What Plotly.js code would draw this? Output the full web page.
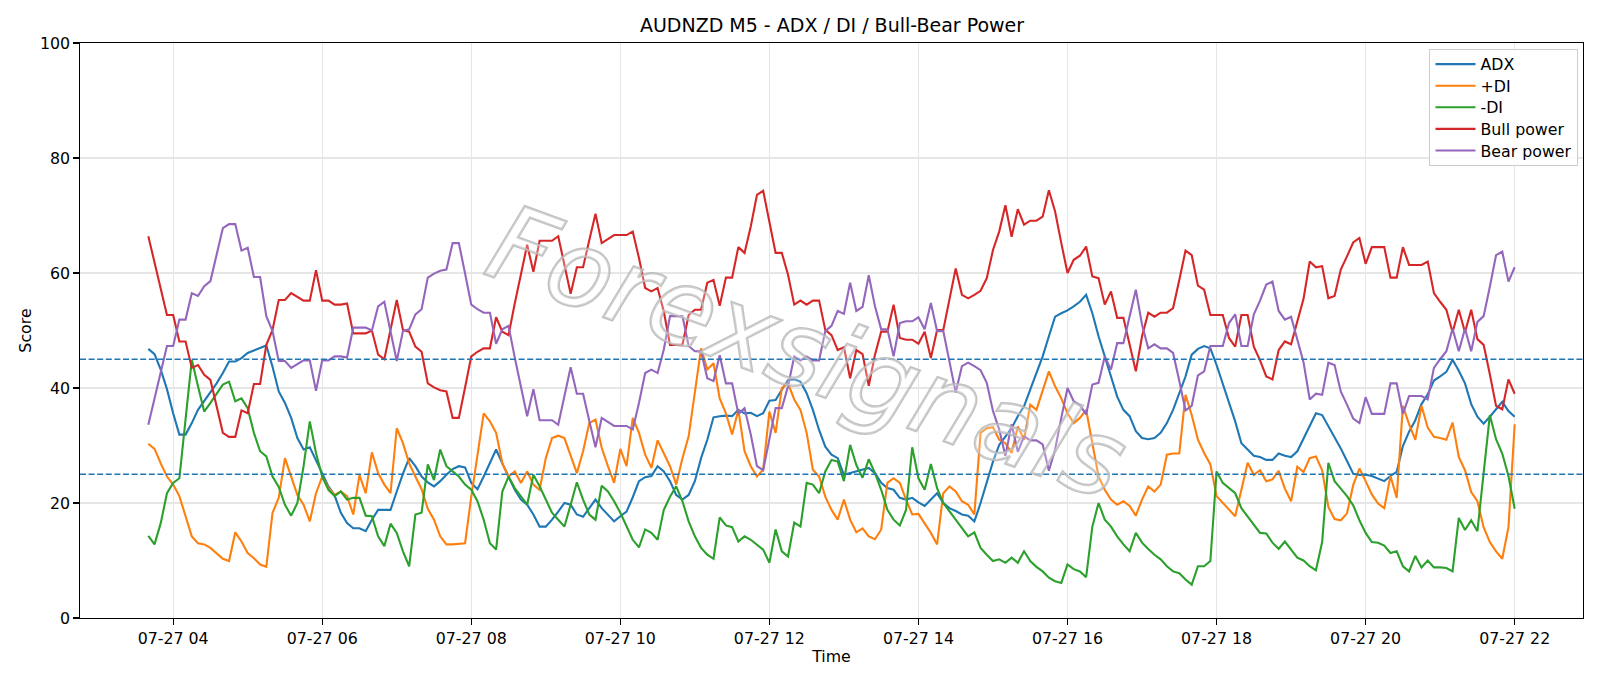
<!DOCTYPE html>
<html>
<head>
<meta charset="utf-8">
<script src="https://cdn.plot.ly/plotly-3.0.1.min.js"></script>
<style>
  html, body { margin: 0; padding: 0; background: #ffffff; }
  #chart { width: 1600px; height: 686px; }
</style>
</head>
<body>
<div id="chart"></div>
<script>
// AUDNZD M5 indicator readings, one value per 5-minute bar from 07-27 03:40 to 07-27 22:00
const startTime = { year: 2024, month: 7, day: 27, hour: 3, minute: 40 };
const barMinutes = 5;

const adx = [
  46.8, 45.9, 43.2, 39.8, 35.6, 31.9, 31.9, 33.9, 36.2, 37.7,
  39.2, 40.8, 42.6, 44.6, 44.6, 45.2, 46.1, 46.5, 46.9, 47.4,
  43.7, 39.4, 37.4, 34.8, 31.3, 29.3, 29.7, 27.5, 25.1, 22.9,
  21.3, 18.3, 16.5, 15.6, 15.6, 15.1, 17.1, 18.8, 18.8, 18.8,
  22.0, 25.1, 27.8, 26.4, 24.6, 23.6, 22.9, 23.8, 24.9, 25.9,
  26.4, 26.2, 23.5, 22.4, 24.6, 26.9, 29.3, 26.9, 24.6, 22.3,
  20.6, 19.7, 18.0, 15.9, 15.9, 17.1, 18.5, 20.0, 19.7, 18.0,
  17.6, 19.1, 20.6, 19.1, 18.0, 16.8, 17.7, 18.5, 21.0, 23.8,
  24.5, 24.7, 26.4, 25.5, 23.8, 21.4, 20.6, 21.4, 23.8, 27.8,
  31.0, 34.9, 35.1, 35.2, 35.1, 36.2, 35.6, 35.7, 35.1, 35.6,
  37.8, 37.9, 39.7, 41.4, 41.5, 41.1, 39.1, 36.2, 32.7, 29.8,
  28.4, 27.8, 24.9, 25.2, 25.5, 25.8, 26.1, 25.2, 23.5, 22.6,
  22.3, 20.9, 20.6, 20.9, 20.1, 19.5, 20.6, 21.7, 20.0, 19.1,
  18.6, 18.0, 17.8, 16.8, 20.0, 23.5, 27.2, 30.1, 31.6, 33.0,
  35.1, 36.8, 39.7, 42.6, 45.5, 49.0, 52.4, 53.0, 53.5, 54.2,
  55.0, 56.2, 53.0, 49.0, 45.5, 42.0, 38.5, 36.2, 35.1, 32.5,
  31.3, 31.1, 31.3, 32.2, 33.9, 36.2, 39.1, 42.0, 45.8, 46.8,
  47.3, 46.9, 44.0, 40.8, 37.4, 34.2, 30.4, 29.3, 28.2, 28.0,
  27.5, 27.5, 28.6, 28.2, 28.0, 29.0, 31.2, 33.4, 35.6, 35.3,
  33.4, 31.5, 29.5, 27.3, 25.1, 24.9, 24.9, 24.7, 24.2, 23.8,
  24.7, 25.4, 29.9, 32.4, 34.4, 37.2, 38.9, 41.3, 42.0, 42.8,
  44.9, 43.0, 40.8, 37.2, 35.0, 33.8, 35.0, 36.3, 37.6, 36.0,
  35.0
];

const plusDI = [
  30.3, 29.4, 26.9, 24.6, 23.2, 21.2, 17.7, 14.2, 13.0, 12.8,
  12.2, 11.3, 10.3, 9.9, 14.9, 13.3, 11.3, 10.4, 9.3, 8.9,
  18.3, 20.9, 27.8, 24.6, 21.4, 19.7, 16.8, 21.7, 24.6, 22.6,
  21.4, 22.0, 21.2, 18.0, 24.9, 21.7, 28.8, 25.2, 23.2, 21.7,
  33.0, 30.4, 26.9, 24.6, 22.4, 19.0, 17.1, 14.2, 12.8, 12.8,
  12.9, 13.0, 21.1, 28.7, 35.6, 34.2, 32.2, 26.9, 24.6, 25.5,
  23.5, 25.5, 23.2, 22.3, 27.8, 31.3, 31.7, 31.3, 28.1, 25.2,
  29.0, 33.9, 34.5, 29.6, 26.4, 23.5, 29.4, 26.4, 34.8, 32.2,
  28.4, 26.1, 30.9, 28.7, 26.4, 23.2, 27.8, 31.6, 39.7, 46.9,
  43.2, 44.3, 38.2, 35.6, 31.9, 36.2, 29.0, 26.4, 24.6, 25.8,
  35.9, 32.2, 40.0, 40.8, 38.0, 36.2, 32.2, 25.8, 24.6, 21.1,
  18.8, 17.1, 20.6, 17.1, 14.9, 15.6, 14.2, 13.7, 15.4, 23.5,
  24.3, 23.5, 20.6, 18.0, 18.1, 16.5, 14.8, 12.8, 21.7, 22.9,
  22.0, 20.3, 19.7, 18.0, 32.2, 33.0, 33.2, 31.0, 30.4, 28.7,
  33.3, 31.0, 37.1, 36.2, 39.7, 42.9, 40.3, 38.2, 35.6, 33.9,
  34.8, 36.2, 30.4, 24.6, 22.3, 20.6, 19.7, 20.3, 19.5, 17.8,
  20.6, 22.9, 22.0, 23.2, 28.4, 28.6, 28.6, 38.8, 35.3, 31.0,
  28.7, 26.7, 21.2, 20.0, 18.8, 17.7, 22.3, 27.0, 24.9, 25.7,
  23.8, 24.1, 25.6, 22.5, 20.3, 26.3, 25.4, 27.8, 28.1, 25.7,
  19.3, 17.2, 17.0, 18.2, 23.1, 26.0, 23.8, 21.5, 19.9, 19.1,
  24.7, 20.9, 36.9, 33.7, 31.0, 36.9, 33.1, 31.5, 31.3, 31.0,
  34.0, 28.0, 25.7, 21.9, 20.3, 15.8, 13.2, 11.6, 10.3, 15.8,
  33.7
];

const minusDI = [
  14.3, 12.8, 16.5, 21.7, 23.5, 24.3, 34.6, 44.9, 40.3, 35.9,
  37.4, 39.1, 40.6, 41.1, 37.7, 38.2, 36.5, 32.2, 29.0, 28.1,
  24.6, 22.8, 19.7, 17.8, 20.0, 26.4, 34.2, 28.7, 24.6, 22.3,
  21.2, 22.0, 20.6, 20.9, 20.9, 17.8, 17.7, 14.2, 12.5, 16.4,
  14.8, 11.6, 9.0, 18.0, 18.3, 26.7, 24.0, 29.3, 26.4, 25.5,
  24.6, 23.2, 22.3, 20.3, 17.1, 13.0, 11.9, 22.0, 24.6, 22.6,
  21.1, 19.7, 24.9, 22.9, 20.6, 18.3, 17.1, 15.9, 19.7, 23.6,
  20.6, 18.0, 17.1, 23.0, 22.0, 20.3, 18.3, 15.9, 13.6, 12.3,
  15.4, 14.8, 13.6, 18.8, 21.1, 22.9, 20.3, 16.8, 14.2, 12.2,
  11.0, 10.3, 17.5, 16.1, 15.8, 13.3, 14.2, 13.6, 12.8, 11.9,
  9.6, 15.4, 11.6, 10.7, 16.6, 15.9, 23.5, 23.2, 21.7, 25.5,
  27.5, 27.2, 23.8, 30.1, 26.6, 24.4, 27.6, 25.2, 22.3, 18.8,
  17.1, 16.1, 18.8, 29.7, 24.3, 22.3, 26.8, 22.6, 20.0, 18.6,
  17.1, 15.6, 14.2, 14.9, 12.2, 11.0, 9.9, 10.2, 9.6, 10.5,
  9.6, 11.6, 9.9, 8.9, 8.1, 7.0, 6.4, 6.1, 9.3, 8.5,
  8.1, 7.1, 15.9, 20.0, 17.1, 15.9, 14.2, 12.8, 11.6, 14.8,
  13.1, 12.0, 11.0, 10.2, 9.0, 8.1, 7.8, 6.7, 5.8, 9.0,
  9.0, 9.9, 25.5, 23.5, 22.6, 21.7, 19.1, 17.7, 16.2, 14.8,
  14.7, 13.1, 12.0, 13.3, 11.9, 10.5, 10.0, 9.0, 8.3, 13.2,
  27.0, 23.8, 22.5, 21.2, 19.6, 17.0, 14.8, 13.2, 13.1, 12.6,
  11.3, 11.6, 9.0, 8.1, 10.8, 8.8, 10.0, 8.8, 8.8, 8.7,
  8.1, 17.4, 15.3, 17.0, 15.1, 24.7, 35.3, 31.1, 28.6, 24.7,
  19.0
];

const bullPower = [
  66.4, 61.9, 57.3, 52.7, 52.7, 48.1, 48.1, 43.5, 44.0, 42.3,
  41.4, 36.8, 32.2, 31.5, 31.5, 36.1, 35.6, 40.7, 40.7, 47.5,
  50.1, 55.3, 55.3, 56.5, 55.8, 55.2, 55.2, 60.5, 55.2, 55.2,
  54.5, 54.5, 54.7, 49.5, 49.5, 49.5, 50.0, 45.8, 45.0, 50.1,
  55.3, 50.1, 49.8, 47.2, 46.3, 40.8, 40.1, 39.6, 39.4, 34.8,
  34.8, 40.1, 45.5, 46.3, 46.9, 46.9, 52.3, 49.8, 49.2, 54.7,
  60.0, 64.9, 60.2, 65.6, 65.6, 65.6, 66.4, 61.4, 56.4, 61.0,
  61.0, 65.7, 70.3, 65.2, 65.9, 66.6, 66.6, 66.6, 67.2, 62.6,
  57.4, 56.8, 57.4, 53.3, 47.5, 47.5, 47.5, 52.7, 53.6, 53.6,
  58.3, 58.8, 54.3, 59.2, 59.2, 64.5, 63.5, 68.1, 73.6, 74.3,
  68.9, 63.5, 63.5, 59.7, 54.5, 55.2, 54.5, 55.2, 55.2, 50.1,
  49.2, 46.6, 47.1, 41.7, 46.6, 45.9, 40.4, 45.8, 49.8, 49.8,
  54.5, 48.7, 48.4, 48.4, 47.7, 49.8, 45.2, 50.1, 50.1, 55.3,
  60.8, 56.2, 55.6, 56.2, 56.9, 59.1, 64.0, 67.2, 71.8, 66.3,
  71.1, 68.4, 69.1, 69.1, 69.8, 74.4, 70.7, 65.2, 60.0, 62.3,
  63.0, 64.6, 59.4, 59.1, 54.5, 56.8, 52.2, 52.2, 47.5, 42.9,
  49.0, 53.1, 52.4, 53.1, 53.1, 53.9, 58.8, 63.9, 63.1, 57.8,
  57.1, 52.7, 52.7, 52.7, 48.7, 47.2, 52.7, 52.7, 47.2, 44.8,
  42.0, 41.5, 46.6, 48.1, 47.6, 51.5, 55.5, 62.0, 61.0, 61.2,
  55.6, 56.0, 60.6, 62.9, 65.3, 66.1, 61.6, 64.5, 64.5, 64.5,
  59.2, 59.2, 64.5, 61.4, 61.4, 61.4, 62.0, 56.5, 55.0, 53.6,
  49.7, 53.6, 49.7, 53.6, 48.5, 47.5, 42.4, 36.9, 36.3, 41.5,
  39.0
];

const bearPower = [
  33.6, 38.1, 42.7, 47.3, 47.3, 51.9, 51.9, 56.5, 56.0, 57.7,
  58.6, 63.2, 67.8, 68.5, 68.5, 63.9, 64.4, 59.3, 59.3, 52.5,
  49.9, 44.7, 44.7, 43.5, 44.2, 44.8, 44.8, 39.5, 44.8, 44.8,
  45.5, 45.5, 45.3, 50.5, 50.5, 50.5, 50.0, 54.2, 55.0, 49.9,
  44.7, 49.9, 50.2, 52.8, 53.7, 59.2, 59.9, 60.4, 60.6, 65.2,
  65.2, 59.9, 54.5, 53.7, 53.1, 53.1, 47.7, 50.2, 50.8, 45.3,
  40.0, 35.1, 39.8, 34.4, 34.4, 34.4, 33.6, 38.6, 43.6, 39.0,
  39.0, 34.3, 29.7, 34.8, 34.1, 33.4, 33.4, 33.4, 32.8, 37.4,
  42.6, 43.2, 42.6, 46.7, 52.5, 52.5, 52.5, 47.3, 46.4, 46.4,
  41.7, 41.2, 45.7, 40.8, 40.8, 35.5, 36.5, 31.9, 26.4, 25.7,
  31.1, 36.5, 36.5, 40.3, 45.5, 44.8, 45.5, 44.8, 44.8, 49.9,
  50.8, 53.4, 52.9, 58.3, 53.4, 54.1, 59.6, 54.2, 50.2, 50.2,
  45.5, 51.3, 51.6, 51.6, 52.3, 50.2, 54.8, 49.9, 49.9, 44.7,
  39.2, 43.8, 44.4, 43.8, 43.1, 40.9, 36.0, 32.8, 28.2, 33.7,
  28.9, 31.6, 30.9, 30.9, 30.2, 25.6, 29.3, 34.8, 40.0, 37.7,
  37.0, 35.4, 40.6, 40.9, 45.5, 43.2, 47.8, 47.8, 52.5, 57.1,
  51.0, 46.9, 47.6, 46.9, 46.9, 46.1, 41.2, 36.1, 36.9, 42.2,
  42.9, 47.3, 47.3, 47.3, 51.3, 52.8, 47.3, 47.3, 52.8, 55.2,
  58.0, 58.5, 53.4, 51.9, 52.4, 48.5, 44.5, 38.0, 39.0, 38.8,
  44.4, 44.0, 39.4, 37.1, 34.7, 33.9, 38.4, 35.5, 35.5, 35.5,
  40.8, 40.8, 35.5, 38.6, 38.6, 38.6, 38.0, 43.5, 45.0, 46.4,
  50.3, 46.4, 50.3, 46.4, 51.5, 52.5, 57.6, 63.1, 63.7, 58.5,
  61.0
];

const thresholdLevels = [45, 25];

const xTickValues = [
  '2024-07-27 04:00', '2024-07-27 06:00', '2024-07-27 08:00', '2024-07-27 10:00', '2024-07-27 12:00',
  '2024-07-27 14:00', '2024-07-27 16:00', '2024-07-27 18:00', '2024-07-27 20:00', '2024-07-27 22:00'
];
const xTickLabels = [
  '07-27 04', '07-27 06', '07-27 08', '07-27 10', '07-27 12',
  '07-27 14', '07-27 16', '07-27 18', '07-27 20', '07-27 22'
];
const yTickValues = [0, 20, 40, 60, 80, 100];
const xRange = ['2024-07-27 02:45', '2024-07-27 22:55'];

const seriesNames = ['ADX', '+DI', '-DI', 'Bull power', 'Bear power'];
const seriesColors = ['#1f77b4', '#ff7f0e', '#2ca02c', '#d62728', '#9467bd'];

const watermarkText = 'Forexsignals';

// Timestamps of the 5-minute bars
function pad(n) { return (n < 10 ? '0' : '') + n; }
function barTimes(count) {
  const out = [];
  for (let i = 0; i < count; i++) {
    const total = startTime.hour * 60 + startTime.minute + i * barMinutes;
    const h = Math.floor(total / 60), m = total % 60;
    out.push(startTime.year + '-' + pad(startTime.month) + '-' + pad(startTime.day) + ' ' + pad(h) + ':' + pad(m));
  }
  return out;
}
const times = barTimes(adx.length);

const FONT = 'DejaVu Sans, Verdana, sans-serif';
const TICK_SIZE = 15.8;
const seriesValues = [adx, plusDI, minusDI, bullPower, bearPower];

const traces = seriesValues.map((vals, k) => ({
  type: 'scatter',
  mode: 'lines',
  name: seriesNames[k],
  x: times,
  y: vals,
  line: { color: seriesColors[k], width: 2.1 }
}));

const shapes = thresholdLevels.map(v => ({
  type: 'line', xref: 'paper', x0: 0, x1: 1, yref: 'y', y0: v, y1: v,
  line: { color: '#1f77b4', width: 1.5, dash: '6px,2.6px' },
  layer: 'above'
}));

const layout = {
  width: 1600,
  height: 686,
  paper_bgcolor: '#ffffff',
  plot_bgcolor: '#ffffff',
  margin: { l: 80, r: 17, t: 43, b: 68 },
  font: { family: FONT, size: TICK_SIZE, color: '#000000' },
  title: {
    text: 'AUDNZD M5 - ADX / DI / Bull-Bear Power',
    font: { family: FONT, size: 19, color: '#000000' },
    x: 0.52, xanchor: 'center',
    y: 1 - 25.5 / 686, yanchor: 'middle', yref: 'container'
  },
  xaxis: {
    type: 'date',
    range: xRange,
    tickmode: 'array',
    tickvals: xTickValues,
    ticktext: xTickLabels,
    ticks: 'outside', ticklen: 5.5, tickwidth: 1.2, tickcolor: '#000000',
    showline: true, linecolor: '#000000', linewidth: 1.2, mirror: true,
    showgrid: true, gridcolor: '#e6e6e6', gridwidth: 1.2,
    zeroline: false,
    tickfont: { family: FONT, size: TICK_SIZE, color: '#000000' },
    title: { text: 'Time', font: { family: FONT, size: TICK_SIZE, color: '#000000' }, standoff: 4 }
  },
  yaxis: {
    range: [0, 100],
    tickmode: 'array',
    tickvals: yTickValues,
    ticks: 'outside', ticklen: 5.5, tickwidth: 1.2, tickcolor: '#000000',
    showline: true, linecolor: '#000000', linewidth: 1.2, mirror: true,
    showgrid: true, gridcolor: '#e6e6e6', gridwidth: 1.2,
    zeroline: false,
    tickfont: { family: FONT, size: TICK_SIZE, color: '#000000' },
    title: { text: 'Score', font: { family: FONT, size: TICK_SIZE, color: '#000000' }, standoff: 4 }
  },
  shapes: shapes,
  legend: {
    x: 0.997, xanchor: 'right',
    y: 0.989, yanchor: 'top',
    bgcolor: 'rgba(255,255,255,0.85)',
    bordercolor: '#cccccc', borderwidth: 1,
    font: { family: FONT, size: TICK_SIZE, color: '#000000' },
    tracegroupgap: 0,
    itemwidth: 40
  },
  annotations: [{
    text: watermarkText,
    xref: 'paper', yref: 'paper',
    x: 0.484, y: 0.462,
    xanchor: 'center', yanchor: 'middle',
    showarrow: false,
    textangle: 20,
    font: { family: FONT, size: 106, color: 'rgba(255,255,255,0.5)', style: 'italic' }
  }]
};

Plotly.newPlot('chart', traces, layout, { displayModeBar: false, staticPlot: true }).then(() => {
  // Outline the watermark letters so they read as hollow light-gray text
  document.querySelectorAll('.annotation-text').forEach(t => {
    if (t.textContent === watermarkText) {
      t.style.stroke = 'rgba(178,178,178,0.8)';
      t.style.strokeWidth = '2.5px';
      t.style.fill = 'rgba(255,255,255,0.5)';
      t.style.paintOrder = 'stroke';
    }
  });

  // Tighten the legend rows to a 21.6px pitch and shrink its frame to fit
  const leg = document.querySelector('.legend');
  if (leg) {
    const rows = Array.from(leg.querySelectorAll('.traces'));
    const pitch = 21.6, lift = 3;
    let firstY = null, oldPitch = null;
    rows.forEach((el, k) => {
      const m = /translate\(\s*([-\d.e]+)[ ,]+([-\d.e]+)\s*\)/.exec(el.getAttribute('transform') || '');
      if (!m) return;
      const x = parseFloat(m[1]), y = parseFloat(m[2]);
      if (k === 0) firstY = y;
      if (k === 1) oldPitch = y - firstY;
      el.setAttribute('transform', 'translate(' + x + ',' + (firstY - lift + k * pitch) + ')');
    });
    const bg = leg.querySelector('rect.bg');
    if (bg && oldPitch !== null) {
      const h = parseFloat(bg.getAttribute('height'));
      bg.setAttribute('height', h - (oldPitch - pitch) * (rows.length - 1) - 2 * lift);
    }
  }
});
</script>
</body>
</html>
